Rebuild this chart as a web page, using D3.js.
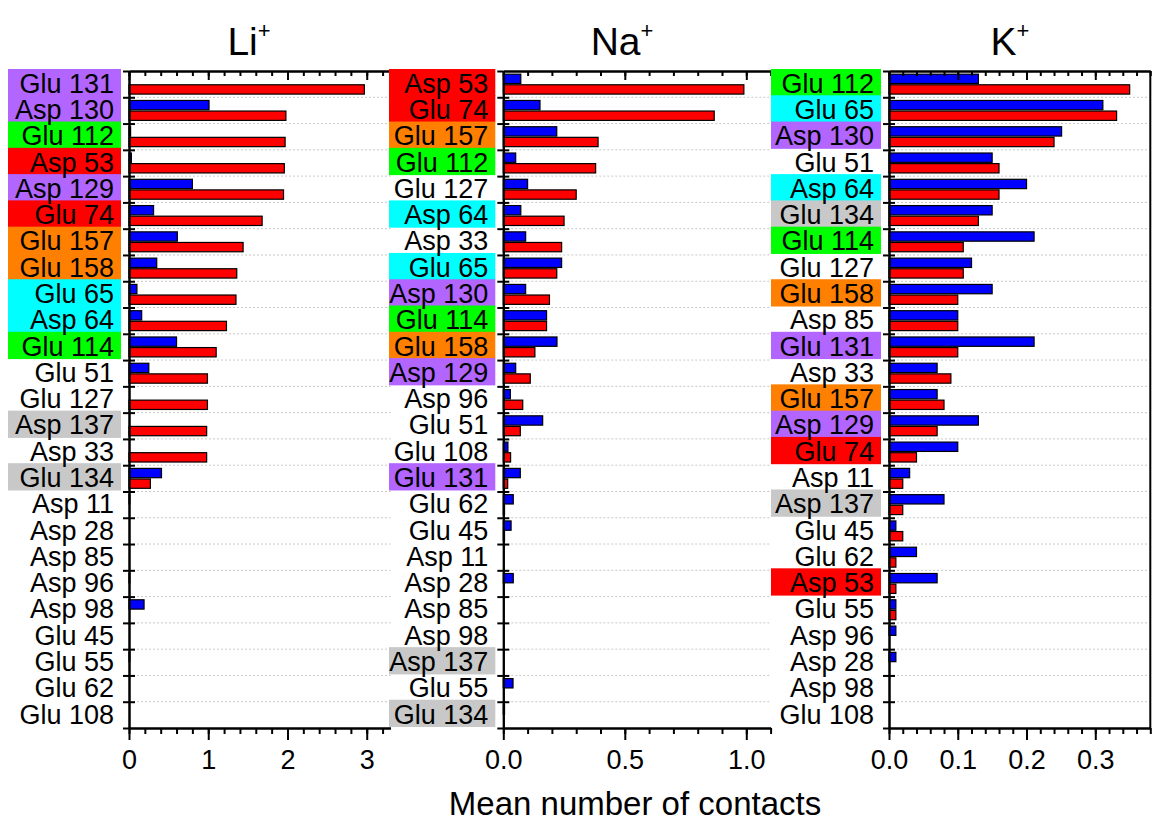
<!DOCTYPE html>
<html>
<head>
<meta charset="utf-8">
<script src="https://cdn.jsdelivr.net/npm/d3@7"></script>
<style>
  body { margin: 0; background: #fff; }
  text { font-family: "Liberation Sans", Arial, sans-serif; fill: #000; }
</style>
</head>
<body>
<script>
// mean number of contacts per residue, three ions, two series (blue / red)

// Li+ panel, top to bottom
var liResidues = ["Glu 131", "Asp 130", "Glu 112", "Asp 53", "Asp 129", "Glu 74", "Glu 157", "Glu 158",
  "Glu 65", "Asp 64", "Glu 114", "Glu 51", "Glu 127", "Asp 137", "Asp 33", "Glu 134", "Asp 11",
  "Asp 28", "Asp 85", "Asp 96", "Asp 98", "Glu 45", "Glu 55", "Glu 62", "Glu 108"];
var liBlue = [0, 1.01, 0.02, 0.03, 0.80, 0.31, 0.61, 0.35, 0.10, 0.16, 0.60, 0.25, 0, 0, 0, 0.41, 0.01,
  0, 0, 0.01, 0.19, 0, 0.01, 0, 0];
var liRed = [2.97, 1.98, 1.97, 1.96, 1.95, 1.68, 1.44, 1.36, 1.35, 1.23, 1.10, 0.99, 0.99, 0.98, 0.98, 0.27, 0,
  0, 0, 0, 0, 0, 0, 0, 0];

// Na+ panel
var naResidues = ["Asp 53", "Glu 74", "Glu 157", "Glu 112", "Glu 127", "Asp 64", "Asp 33", "Glu 65",
  "Asp 130", "Glu 114", "Glu 158", "Asp 129", "Asp 96", "Glu 51", "Glu 108", "Glu 131", "Glu 62",
  "Glu 45", "Asp 11", "Asp 28", "Asp 85", "Asp 98", "Asp 137", "Glu 55", "Glu 134"];
var naBlue = [0.072, 0.151, 0.22, 0.051, 0.10, 0.072, 0.092, 0.24, 0.092, 0.178, 0.221, 0.051, 0.029, 0.162,
  0.019, 0.07, 0.041, 0.032, 0, 0.041, 0, 0, 0, 0.04, 0.005];
var naRed = [0.99, 0.868, 0.39, 0.38, 0.30, 0.25, 0.24, 0.22, 0.19, 0.178, 0.13, 0.111, 0.08, 0.07,
  0.03, 0.018, 0.005, 0.005, 0, 0, 0, 0, 0, 0, 0];

// K+ panel
var kResidues = ["Glu 112", "Glu 65", "Asp 130", "Glu 51", "Asp 64", "Glu 134", "Glu 114", "Glu 127",
  "Glu 158", "Asp 85", "Glu 131", "Asp 33", "Glu 157", "Asp 129", "Glu 74", "Asp 11", "Asp 137",
  "Glu 45", "Glu 62", "Asp 53", "Glu 55", "Asp 96", "Asp 28", "Asp 98", "Glu 108"];
var kBlue = [0.130, 0.311, 0.251, 0.150, 0.200, 0.150, 0.211, 0.120, 0.150, 0.10, 0.211, 0.07, 0.07,
  0.13, 0.10, 0.03, 0.08, 0.01, 0.04, 0.07, 0.01, 0.01, 0.01, 0, 0];
var kRed = [0.350, 0.331, 0.240, 0.160, 0.160, 0.130, 0.108, 0.108, 0.10, 0.10, 0.10, 0.09, 0.08,
  0.07, 0.04, 0.02, 0.02, 0.02, 0.01, 0.01, 0.01, 0, 0, 0, 0];

// tick labels of the x axes
var liTicks = [0, 1, 2, 3];
var naTicks = [0, 0.5, 1.0];
var kTicks = [0, 0.1, 0.2, 0.3];

// residues that get a coloured label
var purpleGroup = ["Glu 131", "Asp 130", "Asp 129"];
var greenGroup = ["Glu 112", "Glu 114"];
var redGroup = ["Asp 53", "Glu 74"];
var orangeGroup = ["Glu 157", "Glu 158"];
var cyanGroup = ["Glu 65", "Asp 64"];
var grayGroup = ["Asp 137", "Glu 134"];

var axisTitle = "Mean number of contacts";

// dimensions chart
var width = 1152;
var height = 824;
var plotTop = 71;
var plotBottom = 728;

// label colours
var labelColor = {};
purpleGroup.forEach(function(r) { labelColor[r] = "#b266ff"; });
greenGroup.forEach(function(r) { labelColor[r] = "#00ff00"; });
redGroup.forEach(function(r) { labelColor[r] = "#ff0000"; });
orangeGroup.forEach(function(r) { labelColor[r] = "#ff8000"; });
cyanGroup.forEach(function(r) { labelColor[r] = "#00ffff"; });
grayGroup.forEach(function(r) { labelColor[r] = "#c8c8c8"; });

var svg = d3.select("body")
  .append("svg")
  .attr("width", width)
  .attr("height", height);

function drawPanel(p) {
  var g = svg.append("g");

  var x = d3.scaleLinear()
    .domain([0, p.max])
    .range([p.left, p.right]);

  var y = d3.scaleBand()
    .domain(p.residues)
    .range([plotTop, plotBottom]);

  // row boundaries
  var yEdge = d3.scaleLinear()
    .domain([0, p.residues.length])
    .range([plotTop, plotBottom]);

  var sub = d3.scaleBand()
    .domain(["blue", "red"])
    .range([0, y.bandwidth()])
    .paddingInner(0.12)
    .paddingOuter(0.3);

  // coloured label backgrounds
  g.selectAll(".labelbg")
    .data(p.residues.filter(function(r) { return labelColor[r]; }))
    .enter()
    .append("rect")
    .attr("x", p.labelLeft)
    .attr("y", function(d) { return y(d) - 2; })
    .attr("width", p.left - 8 - p.labelLeft)
    .attr("height", y.bandwidth() + 1)
    .attr("fill", function(d) { return labelColor[d]; });

  // dotted grid lines between rows
  g.selectAll(".grid")
    .data(d3.range(1, p.residues.length))
    .enter()
    .append("line")
    .attr("x1", p.left)
    .attr("x2", p.right)
    .attr("y1", function(d) { return yEdge(d); })
    .attr("y2", function(d) { return yEdge(d); })
    .attr("stroke", "#c8c8c8")
    .attr("stroke-width", 1)
    .attr("stroke-dasharray", "2,2");

  // bars
  var rows = p.residues.map(function(r, i) {
    return {res: r, blue: p.blue[i], red: p.red[i]};
  });
  ["blue", "red"].forEach(function(s) {
    g.selectAll(".bar-" + s)
      .data(rows.filter(function(d) { return d[s] > 0; }))
      .enter()
      .append("rect")
      .attr("x", x(0))
      .attr("y", function(d) { return y(d.res) + sub(s); })
      .attr("width", function(d) { return x(d[s]) - x(0); })
      .attr("height", sub.bandwidth())
      .attr("fill", s == "blue" ? "#0000ff" : "#ff0000")
      .attr("stroke", "#000")
      .attr("stroke-width", 1.2);
  });

  // minor ticks
  var minors = d3.range(0, Math.round(p.max / p.minor) + 1).map(function(i) { return i * p.minor; });

  // bottom axis
  g.append("g")
    .attr("transform", "translate(0," + plotBottom + ")")
    .call(d3.axisBottom(x).tickValues(minors).tickSize(6).tickSizeOuter(0).tickFormat(""));
  var bottomMajor = g.append("g")
    .attr("transform", "translate(0," + plotBottom + ")")
    .call(d3.axisBottom(x).tickValues(p.ticks).tickSize(12).tickSizeOuter(0).tickPadding(10).tickFormat(p.format));
  bottomMajor.selectAll("text").style("font-size", "27px").attr("dy", "0.71em");

  // top axis, ticks point inward
  g.append("g")
    .attr("transform", "translate(0," + plotTop + ")")
    .call(d3.axisTop(x).tickValues(minors).tickSize(-5).tickSizeOuter(0).tickFormat(""));
  g.append("g")
    .attr("transform", "translate(0," + plotTop + ")")
    .call(d3.axisTop(x).tickValues(p.ticks).tickSize(-9).tickSizeOuter(0).tickFormat(""));

  // left axis with row labels
  var left = g.append("g")
    .attr("transform", "translate(" + p.left + ",0)")
    .call(d3.axisLeft(y).tickSize(0).tickPadding(15));
  left.selectAll("text").style("font-size", "27px");
  left.select(".domain").remove();

  // ticks between rows, both sides of the axis
  g.append("g")
    .attr("transform", "translate(" + p.left + ",0)")
    .call(d3.axisLeft(yEdge).tickValues(d3.range(0, p.residues.length + 1)).tickSize(6).tickSizeOuter(0).tickFormat(""));
  g.append("g")
    .attr("transform", "translate(" + p.left + ",0)")
    .call(d3.axisRight(yEdge).tickValues(d3.range(1, p.residues.length)).tickSize(6).tickSizeOuter(0).tickFormat(""));

  if (p.border) {
    g.append("line")
      .attr("x1", p.right).attr("x2", p.right)
      .attr("y1", plotTop).attr("y2", plotBottom)
      .attr("stroke", "#000")
      .attr("stroke-width", 2);
  }

  g.selectAll(".domain").attr("stroke-width", 2);
  g.selectAll(".tick line").attr("stroke-width", 2);

  // panel title
  var title = g.append("text")
    .attr("x", p.titleX)
    .attr("y", 55)
    .attr("text-anchor", "middle")
    .style("font-size", "39px")
    .text(p.title);
  title.append("tspan")
    .attr("dy", -17)
    .style("font-size", "22px")
    .text("+");
}

drawPanel({
  residues: liResidues, blue: liBlue, red: liRed,
  max: 3.3, ticks: liTicks, minor: 0.2, format: d3.format("d"),
  left: 129, right: 390.5, labelLeft: 8, title: "Li", titleX: 249, border: false
});

drawPanel({
  residues: naResidues, blue: naBlue, red: naRed,
  max: 1.1, ticks: naTicks, minor: 0.1, format: d3.format(".1f"),
  left: 503.3, right: 770.6, labelLeft: 389, title: "Na", titleX: 622, border: false
});

drawPanel({
  residues: kResidues, blue: kBlue, red: kRed,
  max: 0.38, ticks: kTicks, minor: 0.02, format: d3.format(".1f"),
  left: 889, right: 1150.3, labelLeft: 771, title: "K", titleX: 1010, border: true
});

// x axis title
svg.append("text")
  .attr("x", 635)
  .attr("y", 815)
  .attr("text-anchor", "middle")
  .style("font-size", "33px")
  .text(axisTitle);
</script>
</body>
</html>
